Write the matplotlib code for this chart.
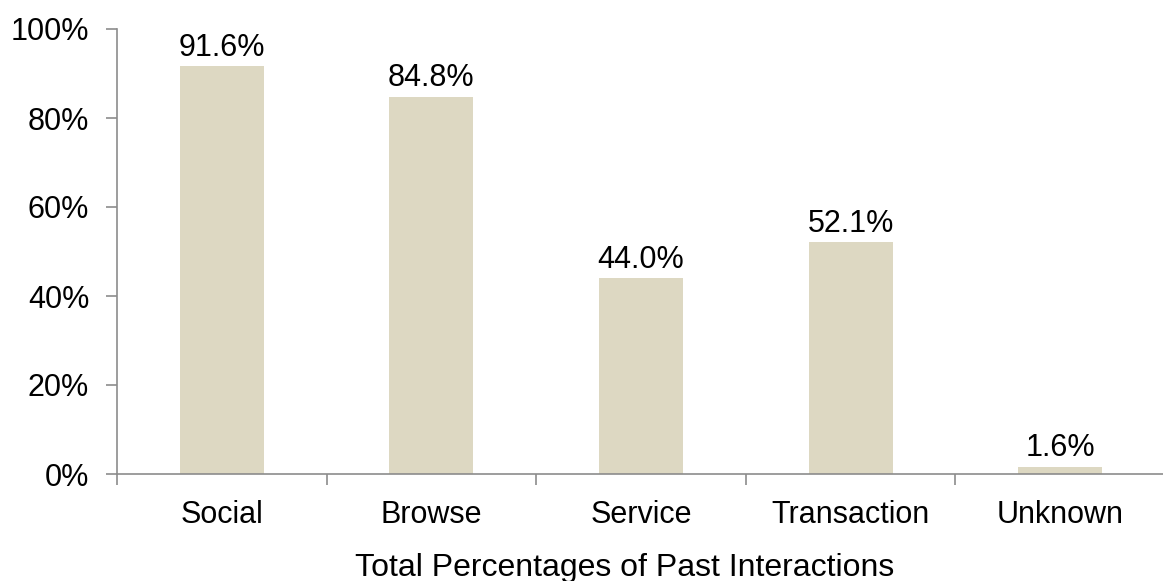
import matplotlib
matplotlib.use("Agg")
import matplotlib.pyplot as plt
import numpy as np

categories = ["Social", "Browse", "Service", "Transaction", "Unknown"]
values = [91.6, 84.8, 44.0, 52.1, 1.6]
yticks = [0, 20, 40, 60, 80, 100]

plt.rcParams["font.family"] = ["Liberation Sans", "DejaVu Sans"]
FS = 22

fig = plt.figure(figsize=(11.63, 5.81), dpi=100)
ax = fig.add_axes([117 / 1163, 107 / 581, 1048 / 1163, 445 / 581])

x = np.arange(len(categories))
ax.bar(x, values, width=0.4, color="#DDD8C2", zorder=2)
for xi, v in zip(x, values):
    ax.annotate(f"{v:.1f}%", xy=(xi, v), xytext=(0, 7.5), textcoords="offset points",
                ha="center", va="baseline", fontsize=FS, color="black")

ax.set_xlim(-0.5, len(categories) - 0.5)
ax.set_ylim(0, 100)
ax.set_yticks(yticks)
ax.set_yticklabels([f"{t}%" for t in yticks])
ax.set_xticks(x)
ax.set_xticklabels(categories)
ax.set_xticks(np.arange(len(categories) + 1) - 0.5, minor=True)
ax.tick_params(axis="x", which="major", length=0, pad=19, labelsize=FS)
ax.tick_params(axis="x", which="minor", length=8, width=1.2, color="#8C8C8C", direction="out")
ax.tick_params(axis="y", length=8, width=1.2, color="#8C8C8C", direction="out", pad=12, labelsize=FS)
ax.set_xlabel("Total Percentages of Past Interactions", fontsize=23, labelpad=16)
ax.xaxis.label.set_x(0.484)

for side in ("top", "right"):
    ax.spines[side].set_visible(False)
for side in ("left", "bottom"):
    ax.spines[side].set_color("#8C8C8C")
    ax.spines[side].set_linewidth(1.2)

fig.savefig("out.png", dpi=100)
